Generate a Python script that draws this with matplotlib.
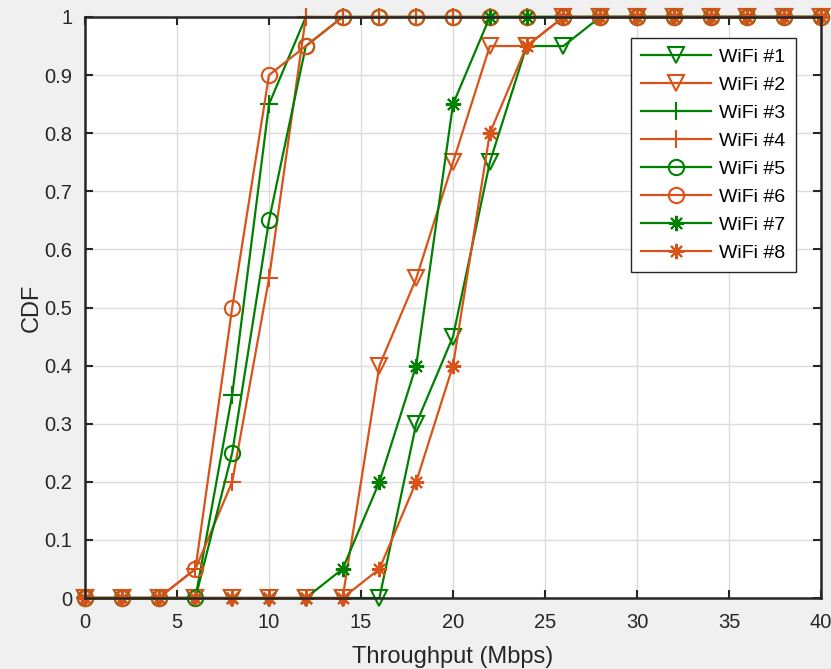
import matplotlib
matplotlib.use("Agg")
import matplotlib.pyplot as plt

plt.rcParams['font.family'] = ['Liberation Sans', 'DejaVu Sans']

x = list(range(0, 42, 2))

wifi1 = [0, 0, 0, 0, 0, 0, 0, 0, 0, 0.3, 0.45, 0.75, 0.95, 0.95, 1, 1, 1, 1, 1, 1, 1]
wifi2 = [0, 0, 0, 0, 0, 0, 0, 0, 0.4, 0.55, 0.75, 0.95, 0.95, 1, 1, 1, 1, 1, 1, 1, 1]
wifi3 = [0, 0, 0, 0, 0.35, 0.85, 1, 1, 1, 1, 1, 1, 1, 1, 1, 1, 1, 1, 1, 1, 1]
wifi4 = [0, 0, 0, 0.05, 0.2, 0.55, 1, 1, 1, 1, 1, 1, 1, 1, 1, 1, 1, 1, 1, 1, 1]
wifi5 = [0, 0, 0, 0, 0.25, 0.65, 0.95, 1, 1, 1, 1, 1, 1, 1, 1, 1, 1, 1, 1, 1, 1]
wifi6 = [0, 0, 0, 0.05, 0.5, 0.9, 0.95, 1, 1, 1, 1, 1, 1, 1, 1, 1, 1, 1, 1, 1, 1]
wifi7 = [0, 0, 0, 0, 0, 0, 0, 0.05, 0.2, 0.4, 0.85, 1, 1, 1, 1, 1, 1, 1, 1, 1, 1]
wifi8 = [0, 0, 0, 0, 0, 0, 0, 0, 0.05, 0.2, 0.4, 0.8, 0.95, 1, 1, 1, 1, 1, 1, 1, 1]

labels = ['WiFi #1', 'WiFi #2', 'WiFi #3', 'WiFi #4', 'WiFi #5', 'WiFi #6', 'WiFi #7', 'WiFi #8']
series = [wifi1, wifi2, wifi3, wifi4, wifi5, wifi6, wifi7, wifi8]
asterisk = (8, 2, 0)
markers = ['v', 'v', '+', '+', 'o', 'o', asterisk, asterisk]
sizes = [11, 11, 13, 13, 11, 11, 11, 11]
green = '#008000'
orange = '#D95319'
colors = [green, orange] * 4

fig = plt.figure(figsize=(8.31, 6.69), dpi=100, facecolor='#f0f0f0')
ax = fig.add_axes([0.1023, 0.1061, 0.8857, 0.8685])
ax.set_facecolor('white')

for y, lab, m, ms, c in zip(series, labels, markers, sizes, colors):
    ax.plot(x, y, color=c, marker=m, markersize=ms, markerfacecolor='none',
            markeredgecolor=c, markeredgewidth=1.5, linewidth=1.6, label=lab, clip_on=False)

ax.set_xlim(0, 40)
ax.set_ylim(0, 1)
ax.set_xticks(range(0, 45, 5))
ax.set_yticks([i / 10 for i in range(11)])
ax.set_yticklabels(['0', '0.1', '0.2', '0.3', '0.4', '0.5', '0.6', '0.7', '0.8', '0.9', '1'])
ax.grid(True, color='#dcdcdc', linewidth=1.0)
ax.set_axisbelow(True)
ax.tick_params(direction='in', length=6, width=1.5, top=True, right=True,
               labelsize=14.5, colors='#262626')
ax.tick_params(axis='x', pad=11)
ax.tick_params(axis='y', pad=9)
for sp in ax.spines.values():
    sp.set_linewidth(1.8)
    sp.set_color('#262626')

ax.set_xlabel('Throughput (Mbps)', fontsize=17, color='#262626', labelpad=10)
ax.set_ylabel('CDF', fontsize=17, color='#262626', labelpad=1)

leg = ax.legend(loc='upper right', bbox_to_anchor=(0.966, 0.964), fontsize=14,
                fancybox=False, edgecolor='#262626', framealpha=1, borderpad=0.55,
                handlelength=3.6, labelspacing=0.53, handletextpad=0.4, borderaxespad=0)
leg.get_frame().set_linewidth(1.0)

fig.savefig('out.png', dpi=100, facecolor=fig.get_facecolor())
